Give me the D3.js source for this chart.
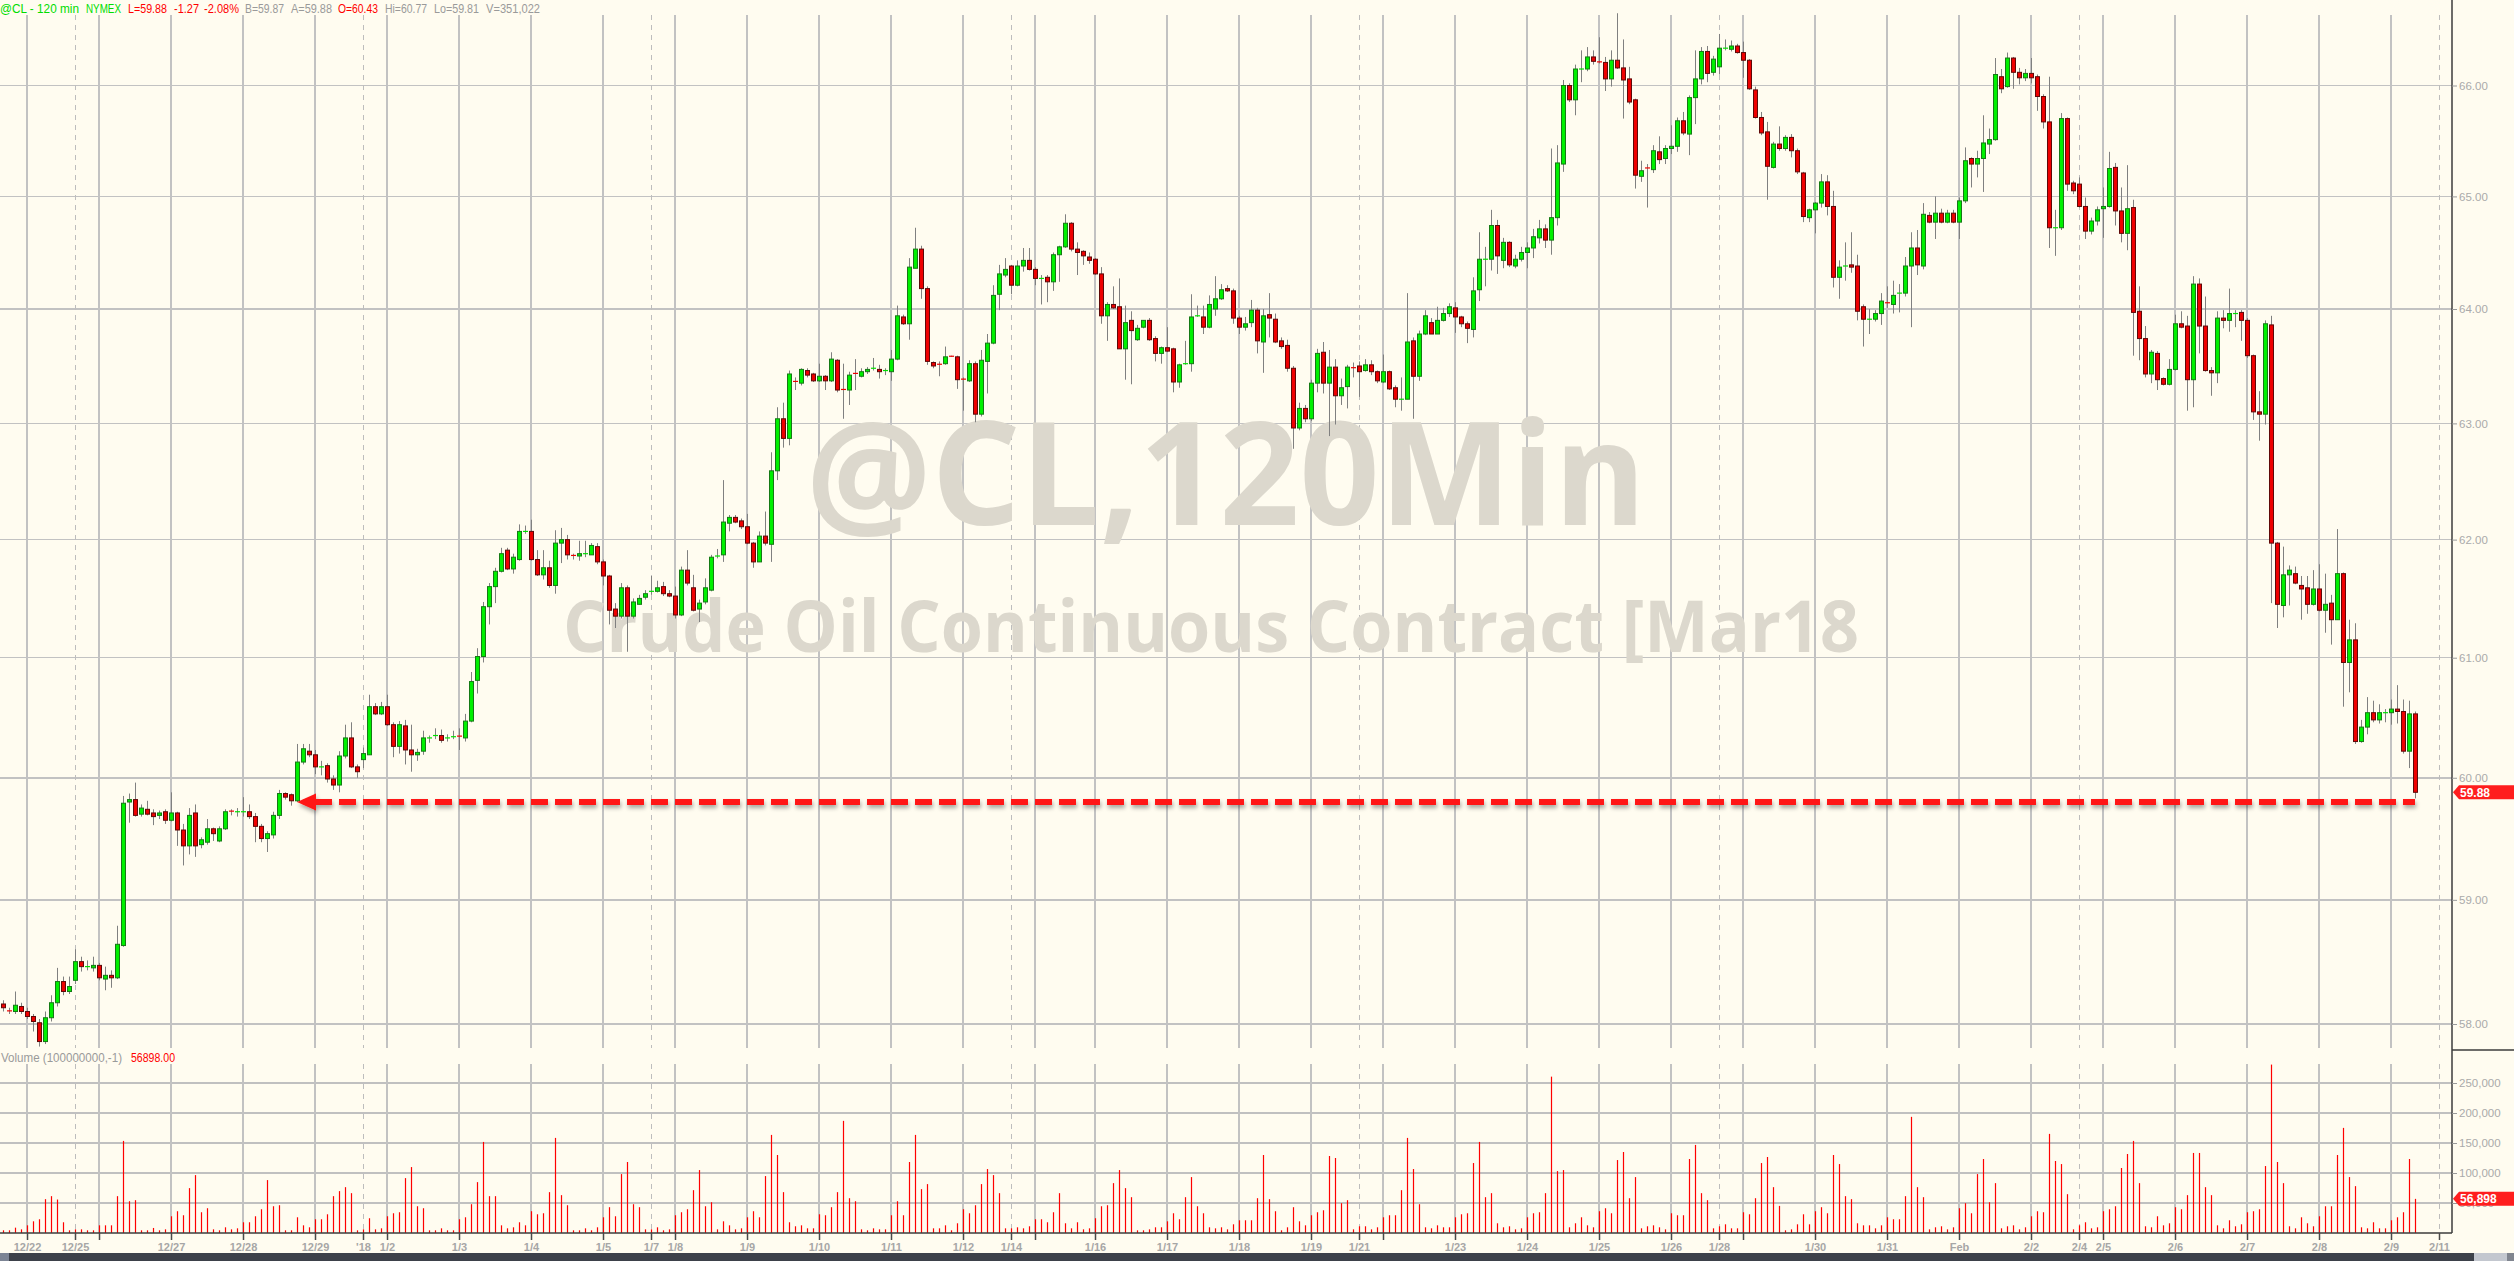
<!DOCTYPE html>
<html>
<head>
<meta charset="utf-8">
<script src="https://cdn.jsdelivr.net/npm/d3@7"></script>
<style>
body { margin: 0; background: #fffcf0; overflow: hidden; }
svg { display: block; }
</style>
</head>
<body>
<div class="container"></div>
<script>
const wd = 2514
const ht = 1261

// 120 min bars, 12/21 evening to 2/9 morning
const opens = [
58.16,58.11,58.10,58.14,58.10,58.06,58.01,57.86,58.05,58.17,
58.34,58.26,58.35,58.50,58.46,58.45,58.47,58.36,58.39,58.37,
58.63,59.80,59.82,59.70,59.74,59.71,59.69,59.72,59.65,59.71,
59.57,59.44,59.71,59.45,59.47,59.58,59.48,59.58,59.73,59.72,
59.72,59.72,59.68,59.60,59.50,59.53,59.69,59.87,59.86,59.81,
60.13,60.22,60.19,60.09,60.10,59.99,59.94,60.18,60.33,60.09,
60.15,60.19,60.59,60.53,60.59,60.44,60.26,60.43,60.23,60.19,
60.22,60.33,60.35,60.35,60.33,60.34,60.35,60.33,60.47,60.81,
61.01,61.43,61.60,61.73,61.91,61.75,61.83,62.07,62.07,61.83,
61.70,61.76,61.61,61.97,62.00,61.87,61.86,61.88,61.87,61.94,
61.81,61.69,61.41,61.35,61.59,61.35,61.45,61.51,61.56,61.56,
61.60,61.54,61.52,61.36,61.74,61.59,61.41,61.47,61.57,61.86,
61.87,62.14,62.19,62.16,62.11,61.97,61.81,62.03,61.96,62.59,
63.04,62.87,63.37,63.35,63.46,63.43,63.37,63.41,63.37,63.55,
63.30,63.29,63.44,63.41,63.45,63.48,63.47,63.46,63.45,63.56,
63.93,63.87,64.36,64.53,64.18,63.53,63.52,63.52,63.59,63.58,
63.39,63.37,63.52,63.08,63.54,63.70,64.13,64.30,64.38,64.21,
64.38,64.43,64.35,64.27,64.28,64.24,64.48,64.55,64.76,64.53,
64.51,64.46,64.44,64.31,63.94,64.04,64.02,63.65,63.90,63.73,
63.84,63.90,63.74,63.61,63.66,63.65,63.36,63.52,63.52,63.94,
63.93,63.84,64.00,64.09,64.18,64.16,63.92,63.84,63.88,63.99,
63.71,63.95,63.91,63.72,63.68,63.48,62.96,63.13,63.04,63.35,
63.62,63.35,63.49,63.24,63.32,63.49,63.50,63.46,63.51,63.45,
63.36,63.45,63.31,63.21,63.21,63.72,63.41,63.78,63.88,63.78,
63.90,63.96,64.01,63.93,63.87,63.82,64.17,64.44,64.44,64.74,
64.43,64.59,64.38,64.44,64.50,64.54,64.63,64.71,64.61,64.81,
65.29,66.00,65.87,66.15,66.15,66.26,66.22,66.21,66.06,66.23,
66.16,66.06,65.87,65.18,65.26,65.24,65.40,65.34,65.43,65.45,
65.68,65.56,65.89,66.06,66.31,66.12,66.17,66.34,66.33,66.36,
66.30,66.23,65.96,65.71,65.58,65.26,65.47,65.43,65.53,65.41,
65.21,64.81,64.88,64.94,65.13,64.91,64.28,64.38,64.39,64.38,
64.02,63.91,63.91,63.96,64.06,64.04,64.14,64.14,64.38,64.54,
64.38,64.83,64.77,64.85,64.77,64.85,64.77,64.96,65.34,65.29,
65.34,65.47,65.51,66.08,65.99,66.25,66.12,66.07,66.11,66.08,
65.90,65.67,64.72,64.72,65.70,65.12,65.11,64.91,64.69,64.78,
64.89,64.91,65.26,64.87,64.67,64.90,63.98,63.74,63.43,63.61,
63.39,63.34,63.47,63.87,63.85,63.38,64.22,63.85,63.46,63.44,
63.92,63.90,63.96,63.97,63.90,63.59,63.10,63.08,63.86,61.97,
61.44,61.70,61.71,61.61,61.59,61.45,61.58,61.40,61.46,61.32,
61.71,60.96,61.15,60.30,60.42,60.54,60.48,60.54,60.54,60.57,
60.55,60.22,60.53]

const highs = [
58.19,58.13,58.26,58.17,58.13,58.08,58.04,58.10,58.23,58.45,
58.38,58.38,58.60,58.54,58.51,58.54,58.49,58.46,58.43,58.79,
59.85,59.87,59.96,59.78,59.81,59.74,59.73,59.74,59.88,59.72,
59.62,59.75,59.78,59.51,59.66,59.59,59.60,59.74,59.74,59.75,
59.84,59.78,59.71,59.62,59.56,59.72,59.90,59.88,59.87,60.28,
60.28,60.28,60.23,60.14,60.12,60.02,60.22,60.44,60.46,60.11,
60.25,60.69,60.62,60.63,60.69,60.46,60.47,60.48,60.44,60.24,
60.39,60.35,60.41,60.40,60.36,60.39,60.41,60.53,60.88,61.08,
61.47,61.63,61.76,61.93,61.93,61.88,62.13,62.12,62.17,61.91,
61.91,61.82,62.08,62.10,62.04,61.88,61.99,61.99,61.97,61.97,
61.83,61.70,61.46,61.63,61.61,61.50,61.53,61.57,61.69,61.65,
61.64,61.57,61.60,61.77,61.91,61.70,61.49,61.67,61.87,61.92,
62.51,62.21,62.21,62.18,62.22,61.98,62.07,62.24,62.75,63.14,
63.18,63.46,63.40,63.48,63.48,63.44,63.52,63.42,63.62,63.56,
63.52,63.45,63.56,63.48,63.49,63.57,63.51,63.48,63.64,64.03,
63.95,64.45,64.72,64.56,64.20,63.54,63.54,63.67,63.59,63.59,
63.40,63.55,63.54,63.64,63.78,64.21,64.39,64.45,64.39,64.43,
64.54,64.54,64.37,64.30,64.30,64.50,64.56,64.84,64.77,64.59,
64.52,64.50,64.45,64.37,64.06,64.20,64.27,64.03,63.98,63.86,
63.90,63.92,63.76,63.67,63.84,63.66,63.52,63.72,64.13,64.03,
64.03,64.12,64.29,64.22,64.21,64.18,63.94,63.93,64.08,64.01,
64.00,64.14,63.96,63.75,63.73,63.50,63.18,63.16,63.38,63.65,
63.71,63.64,63.56,63.39,63.51,63.53,63.54,63.56,63.55,63.46,
63.60,63.46,63.33,63.40,64.14,63.75,63.81,63.99,63.92,64.02,
64.01,64.05,64.06,63.94,63.89,64.28,64.68,64.55,64.88,64.79,
64.63,64.60,64.48,64.55,64.59,64.71,64.79,64.75,65.43,65.46,
66.05,66.02,66.19,66.32,66.35,66.32,66.44,66.26,66.32,66.66,
66.42,66.17,65.88,65.32,65.29,65.46,65.54,65.46,65.64,65.71,
65.76,65.91,66.32,66.35,66.36,66.27,66.47,66.42,66.41,66.38,
66.40,66.24,65.99,65.76,65.67,65.49,65.63,65.55,65.56,65.43,
65.22,64.89,64.95,65.20,65.19,65.05,64.43,64.59,64.68,64.48,
64.04,64.00,63.99,64.14,64.20,64.25,64.22,64.46,64.68,64.70,
64.94,64.86,65.00,64.89,64.88,64.88,64.99,65.44,65.35,65.41,
65.73,65.61,66.25,66.15,66.30,66.26,66.16,66.15,66.25,66.10,
65.92,66.08,64.88,65.75,65.71,65.14,65.17,64.99,64.81,64.91,
65.08,65.40,65.30,65.08,65.28,64.97,64.20,63.85,63.64,63.63,
63.40,63.56,63.95,63.98,63.94,64.29,64.27,64.11,63.49,63.98,
63.99,64.18,63.99,63.99,63.92,63.60,63.28,63.90,63.94,61.98,
61.94,61.78,61.77,61.69,61.69,61.74,61.79,61.71,61.53,62.09,
61.72,61.32,61.29,60.48,60.67,60.64,60.61,60.57,60.65,60.77,
60.65,60.64,60.55]

const lows = [
58.10,58.08,58.08,58.08,58.04,57.94,57.82,57.84,58.02,58.14,
58.23,58.24,58.32,58.42,58.43,58.42,58.35,58.27,58.29,58.36,
58.62,59.63,59.68,59.68,59.69,59.61,59.66,59.62,59.64,59.44,
59.28,59.37,59.35,59.42,59.45,59.48,59.47,59.57,59.69,59.68,
59.68,59.66,59.47,59.47,59.39,59.50,59.66,59.82,59.77,59.80,
60.11,60.17,60.03,60.02,59.96,59.90,59.88,60.16,60.08,60.00,
60.08,60.19,60.52,60.52,60.43,60.17,60.20,60.11,60.05,60.14,
60.19,60.29,60.32,60.29,60.30,60.32,60.23,60.30,60.46,60.70,
60.96,61.28,61.46,61.72,61.74,61.71,61.82,62.05,61.82,61.69,
61.66,61.59,61.54,61.80,61.83,61.83,61.82,61.85,61.87,61.79,
61.61,61.28,61.25,61.33,61.05,61.33,61.45,61.49,61.53,61.55,
61.52,61.51,61.33,61.35,61.61,61.39,61.30,61.45,61.56,61.84,
61.81,62.07,62.14,62.09,61.96,61.76,61.81,61.95,61.81,62.51,
62.79,62.81,63.29,63.33,63.40,63.36,63.36,63.29,63.36,63.27,
63.04,63.16,63.29,63.40,63.43,63.46,63.39,63.42,63.37,63.55,
63.86,63.73,64.36,64.09,63.51,63.48,63.41,63.51,63.58,63.30,
63.11,63.36,63.01,63.06,63.26,63.69,63.99,64.28,64.13,64.20,
64.33,64.34,64.21,64.04,64.06,64.16,64.24,64.54,64.51,64.30,
64.39,64.40,64.30,63.87,63.72,64.00,63.65,63.38,63.34,63.72,
63.83,63.72,63.54,63.52,63.62,63.27,63.31,63.51,63.45,63.93,
63.78,63.83,63.94,64.08,64.15,63.87,63.78,63.81,63.84,63.61,
63.44,63.75,63.70,63.65,63.45,62.78,62.94,63.01,63.02,63.27,
63.26,62.89,62.99,63.16,63.13,63.40,63.23,63.45,63.42,63.35,
63.35,63.29,63.14,63.11,63.21,63.04,63.37,63.77,63.78,63.78,
63.89,63.93,63.79,63.84,63.70,63.75,64.07,64.20,64.34,64.31,
64.36,64.37,64.36,64.42,64.36,64.45,64.58,64.54,64.48,64.74,
65.22,65.85,65.73,66.03,66.13,66.19,66.20,65.95,65.99,66.15,
65.70,65.83,65.07,65.13,64.90,65.21,65.29,65.29,65.38,65.40,
65.55,65.37,65.65,66.01,66.03,66.09,66.10,66.32,66.31,66.29,
66.07,65.96,65.70,65.55,64.97,65.25,65.41,65.41,65.35,65.20,
64.77,64.77,64.67,64.90,64.83,64.19,64.09,64.25,64.32,63.90,
63.67,63.78,63.89,63.86,64.01,63.96,63.97,64.11,63.84,64.30,
64.35,64.76,64.62,64.76,64.76,64.76,64.62,64.94,65.08,65.17,
65.04,65.38,65.50,65.93,65.98,65.97,66.01,66.04,66.02,65.77,
65.61,64.54,64.47,64.70,65.05,65.02,64.90,64.62,64.66,64.74,
64.63,64.90,64.74,64.59,64.52,63.59,63.55,63.40,63.35,63.29,
63.33,63.33,63.46,63.83,63.11,63.14,63.61,63.45,63.24,63.35,
63.83,63.80,63.84,63.72,63.57,63.03,62.85,62.99,61.46,61.25,
61.34,61.44,61.62,61.32,61.37,61.44,61.39,61.21,61.11,61.32,
60.59,60.71,60.28,60.29,60.36,60.46,60.45,60.46,60.44,60.45,
60.20,60.08,59.83]

const closes = [
58.13,58.10,58.15,58.10,58.06,58.02,57.86,58.05,58.17,58.34,
58.26,58.30,58.50,58.46,58.46,58.47,58.37,58.39,58.37,58.64,
59.79,59.82,59.69,59.75,59.70,59.68,59.71,59.65,59.71,59.57,
59.44,59.69,59.44,59.49,59.58,59.54,59.58,59.72,59.72,59.72,
59.72,59.68,59.60,59.50,59.54,59.69,59.87,59.84,59.81,60.13,
60.24,60.19,60.09,60.09,59.99,59.94,60.18,60.33,60.09,60.05,
60.20,60.59,60.53,60.59,60.44,60.26,60.44,60.23,60.19,60.21,
60.33,60.33,60.35,60.31,60.33,60.34,60.34,60.47,60.80,61.01,
61.43,61.60,61.73,61.88,61.75,61.85,62.07,62.07,61.83,61.70,
61.76,61.61,61.97,62.00,61.87,61.86,61.88,61.88,61.95,61.81,
61.69,61.40,61.35,61.59,61.35,61.47,61.50,61.54,61.56,61.59,
61.54,61.52,61.36,61.74,61.63,61.40,61.46,61.59,61.85,61.86,
62.15,62.19,62.15,62.11,61.97,61.81,62.03,61.97,62.59,63.04,
62.87,63.43,63.36,63.47,63.42,63.37,63.41,63.37,63.56,63.29,
63.29,63.42,63.43,63.45,63.47,63.48,63.45,63.46,63.56,63.94,
63.87,64.37,64.53,64.18,63.54,63.50,63.51,63.58,63.58,63.38,
63.38,63.52,63.08,63.55,63.70,64.12,64.31,64.35,64.21,64.38,
64.43,64.35,64.27,64.27,64.24,64.48,64.55,64.76,64.53,64.50,
64.47,64.43,64.31,63.94,64.04,64.01,63.65,63.88,63.81,63.83,
63.90,63.73,63.61,63.66,63.63,63.36,63.51,63.52,63.93,63.94,
63.84,64.04,64.09,64.17,64.16,63.92,63.84,63.87,63.99,63.72,
63.94,63.92,63.71,63.67,63.48,62.96,63.13,63.04,63.35,63.61,
63.35,63.49,63.24,63.31,63.49,63.48,63.45,63.51,63.45,63.37,
63.45,63.30,63.21,63.21,63.71,63.41,63.78,63.94,63.78,63.90,
63.96,64.02,63.93,63.87,63.83,64.16,64.44,64.44,64.74,64.47,
64.59,64.39,64.44,64.50,64.54,64.64,64.71,64.61,64.81,65.30,
66.00,65.87,66.15,66.15,66.26,66.22,66.21,66.06,66.23,66.16,
66.05,65.85,65.19,65.23,65.25,65.41,65.33,65.43,65.45,65.68,
65.57,65.89,66.06,66.31,66.11,66.24,66.34,66.34,66.36,66.30,
66.23,65.97,65.71,65.57,65.27,65.47,65.43,65.53,65.41,65.22,
64.82,64.88,64.94,65.13,64.91,64.28,64.37,64.38,64.37,63.98,
63.91,63.91,63.96,64.07,64.05,64.12,64.14,64.38,64.54,64.39,
64.84,64.77,64.85,64.77,64.85,64.77,64.96,65.32,65.29,65.34,
65.48,65.51,66.10,65.97,66.25,66.12,66.07,66.11,66.07,65.90,
65.67,64.72,64.72,65.70,65.11,65.05,64.91,64.69,64.78,64.88,
64.91,65.25,64.87,64.67,64.89,63.97,63.74,63.43,63.62,63.38,
63.34,63.47,63.87,63.84,63.38,64.22,63.85,63.46,63.44,63.92,
63.90,63.96,63.96,63.90,63.59,63.10,63.08,63.87,61.97,61.45,
61.70,61.74,61.63,61.58,61.45,61.58,61.40,61.45,61.32,61.71,
60.96,61.15,60.30,60.42,60.54,60.48,60.54,60.54,60.57,60.55,
60.22,60.53,59.88]

const volumes = [
4500,4500,8900,6100,12800,19500,22900,56400,61400,55800,
17900,4500,6100,6100,4500,4500,12800,12800,12800,61400,
153500,53000,54700,4500,4500,8400,4500,6100,27900,36300,
29600,74800,96500,34600,41300,6100,4500,9500,6100,7800,
17900,17900,27900,39600,88200,44600,46300,4500,4500,26200,
12800,9500,22900,22900,31200,61400,69800,76400,66400,4500,
6100,24600,6100,7800,27900,32900,34600,91500,109900,44600,
41300,4500,4500,7800,4500,4500,22900,26200,48000,84800,
151800,61400,61400,12800,7800,9500,17900,12800,36300,31200,
32900,68100,158500,63100,46300,4500,4500,7800,4500,9500,
26200,43000,27900,98200,118300,48000,43000,6100,6100,9500,
4500,6100,29600,34600,39600,71400,104900,44600,51300,6100,
19500,12800,6100,7800,26200,36300,26200,94900,163500,130000,
68100,17900,11200,12800,7800,7800,31200,29600,43000,68100,
186900,58000,53000,6100,4500,7800,6100,6100,29600,53000,
29600,118300,163500,73100,81500,7800,7800,12800,4500,16200,
39600,32900,46300,81500,106600,96500,66400,7800,7800,9500,
7800,11200,22900,22900,17900,34600,66400,16200,7800,17900,
6100,7800,24600,44600,46300,83100,104900,74800,59700,4500,
4500,6100,9500,9500,19500,32900,22900,59700,93200,44600,
32900,9500,7800,9500,6100,14500,21200,21200,21200,58000,
130000,56400,36300,4500,9500,43000,19500,12800,29600,34600,
37900,128300,125000,49700,54700,6100,11200,11200,6100,9500,
26200,29600,29600,71400,158500,106600,48000,9500,7800,12800,
9500,9500,26200,31200,32900,116600,151800,59700,66400,16200,
9500,11200,6100,7800,26200,32900,34600,66400,260600,103200,
104900,9500,16200,26200,12800,9500,36300,41300,32900,121600,
135000,58000,93200,7800,11200,12800,9500,6100,32900,29600,
29600,123300,146800,66400,54700,7800,11200,14500,7800,7800,
34600,31200,58000,116600,126700,76400,45200,4500,6100,14500,
31200,14500,36300,43000,32900,130000,114900,61400,56400,16200,
12800,12800,7800,12800,26200,22900,22900,61400,193600,76400,
59700,6100,9500,11200,6100,9500,41300,49700,32900,98200,
123300,51300,83100,7800,11200,12800,6100,9500,27900,36300,
34600,165200,120000,114900,64700,6100,12800,17900,7800,9500,
36300,39600,44600,108300,131700,153500,83100,11200,9500,27900,
12800,16200,43000,39600,63100,133400,133400,76400,63100,12800,
7800,21200,11200,14500,34600,36300,39600,111600,280700,118300,
83100,11200,7800,26200,16200,11200,27900,44600,44600,130000,
175200,93200,78100,9500,7800,17900,7800,7800,21200,26200,
34600,123300,56898]

// date axis: bar index of each session start, and its label
const tickBars = [4,12,16,28,40,52,60,64,76,88,100,108,112,124,136,148,160,168,172,182,194,206,218,226,230,242,254,266,278,286,290,302,314,326,338,346,350,362,374,386,398,406]
const tickLabels = ["12/22","12/25","","12/27","12/28","12/29","'18","1/2","1/3","1/4","1/5","1/7","1/8","1/9","1/10","1/11","1/12","1/14","","1/16","1/17","1/18","1/19","1/21","","1/23","1/24","1/25","1/26","1/28","","1/30","1/31","Feb","2/2","2/4","2/5","2/6","2/7","2/8","2/9","2/11"]
const weekStarts = [12,60,108,168,226,286,346,406]

const priceTicks = [58,59,60,61,62,63,64,65,66]
const volTicks = [50000,100000,150000,200000,250000]

// red arrow line drawn on the chart
const markLevel = 59.80
const markFrom = 49
const markTo = 402

const header = [
  {t:"@CL - 120 min", x:0, w:79, c:"#00dd00"},
  {t:"NYMEX", x:86, w:35, c:"#00dd00"},
  {t:"L=59.88", x:128, w:39, c:"#ff0000"},
  {t:"-1.27", x:174, w:25, c:"#ff0000"},
  {t:"-2.08%", x:204, w:35, c:"#ff0000"},
  {t:"B=59.87", x:245, w:39, c:"#9a9a9a"},
  {t:"A=59.88", x:291, w:41, c:"#9a9a9a"},
  {t:"O=60.43", x:338, w:40, c:"#ff0000"},
  {t:"Hi=60.77", x:385, w:42, c:"#9a9a9a"},
  {t:"Lo=59.81", x:434, w:45, c:"#9a9a9a"},
  {t:"V=351,022", x:486, w:54, c:"#9a9a9a"}
]

const font = "'Liberation Sans', Arial, sans-serif"
const axisX = 2452
const mainTop = 15, mainBot = 1048
const volTop = 1064, volBase = 1233

const svgC = d3.select(".container")
.append("svg")
.attr("width", wd)
.attr("height", ht)
.style("background", "#fffcf0")

const x = d3.scaleLinear().domain([0, 402]).range([3, 2415])
const y = d3.scaleLog().domain([58, 66]).range([1024, 85.5])
const yv = d3.scaleLinear().domain([0, 250000]).range([volBase, 1083])

const defs = svgC.append("defs")
const shadow = defs.append("filter").attr("id", "shd")
.attr("x", "-5%").attr("y", "-200%").attr("width", "110%").attr("height", "500%")
shadow.append("feDropShadow")
.attr("dx", 1).attr("dy", 3).attr("stdDeviation", 2)
.attr("flood-color", "#000").attr("flood-opacity", 0.35)

// grid
const grid = svgC.append("g").attr("shape-rendering", "crispEdges")

grid.selectAll(".hline")
.data(priceTicks)
.enter()
.append("line")
.attr("x1", 0).attr("x2", axisX)
.attr("y1", d => y(d)).attr("y2", d => y(d))
.style("stroke", "#c2c2c2")
.style("stroke-width", "1.5px")

grid.selectAll(".vline")
.data(volTicks)
.enter()
.append("line")
.attr("x1", 0).attr("x2", axisX)
.attr("y1", d => yv(d)).attr("y2", d => yv(d))
.style("stroke", "#c0c0c0")
.style("stroke-width", "2px")

const dayLines = grid.selectAll(".day")
.data(tickBars)
.enter()

for (const [top, bot] of [[mainTop, mainBot], [volTop, volBase]]) {
  dayLines.append("line")
  .attr("x1", d => Math.round(x(d))).attr("x2", d => Math.round(x(d)))
  .attr("y1", top).attr("y2", bot)
  .style("stroke", d => weekStarts.includes(d) ? "#bdbdbd" : "#c2c2c2")
  .style("stroke-width", d => weekStarts.includes(d) ? "1px" : "1.6px")
  .style("stroke-dasharray", d => weekStarts.includes(d) ? "5,5" : null)
}

// watermark
svgC.append("text")
.attr("x", 806).attr("y", 525)
.attr("textLength", 840).attr("lengthAdjust", "spacingAndGlyphs")
.style("font-family", "'Open Sans', 'DejaVu Sans', sans-serif")
.style("font-weight", "bold")
.style("font-size", "143px")
.style("fill", "#dcd8cd")
.text("@CL,120Min")

svgC.append("text")
.attr("x", 563).attr("y", 652)
.attr("textLength", 1296).attr("lengthAdjust", "spacingAndGlyphs")
.style("font-family", "'Open Sans', 'DejaVu Sans', sans-serif")
.style("font-weight", "bold")
.style("font-size", "71px")
.style("fill", "#dcd8cd")
.text("Crude Oil Continuous Contract [Mar18")

// candles
const bars = d3.range(opens.length).map(i => ({
  i: i, o: opens[i], h: highs[i], l: lows[i], c: closes[i]
}))

const cg = svgC.append("g")

cg.selectAll(".wick")
.data(bars)
.enter()
.append("line")
.attr("x1", d => Math.round(x(d.i)) + 0.5).attr("x2", d => Math.round(x(d.i)) + 0.5)
.attr("y1", d => y(d.h)).attr("y2", d => y(d.l))
.style("stroke", "#808080")
.style("stroke-width", "1px")

const flat = d => Math.abs(d.c - d.o) <= 0.011
const up = d => d.c >= d.o

cg.selectAll(".body")
.data(bars.filter(d => !flat(d)))
.enter()
.append("rect")
.attr("x", d => Math.round(x(d.i)) - 1.5)
.attr("width", 4)
.attr("y", d => y(Math.max(d.o, d.c)))
.attr("height", d => Math.max(1, y(Math.min(d.o, d.c)) - y(Math.max(d.o, d.c))))
.style("fill", d => up(d) ? "#00f000" : "#ee0000")
.style("stroke", d => up(d) ? "#157a15" : "#5e0808")
.style("stroke-width", "1px")

cg.selectAll(".dash")
.data(bars.filter(d => flat(d)))
.enter()
.append("line")
.attr("x1", d => Math.round(x(d.i)) - 2).attr("x2", d => Math.round(x(d.i)) + 3)
.attr("y1", d => y((d.o + d.c) / 2)).attr("y2", d => y((d.o + d.c) / 2))
.style("stroke", d => up(d) ? "#00e000" : "#ee0000")
.style("stroke-width", "1.2px")

// volume
svgC.append("g").selectAll("line")
.data(volumes)
.enter()
.append("line")
.attr("x1", (d, i) => Math.round(x(i)) + 0.5).attr("x2", (d, i) => Math.round(x(i)) + 0.5)
.attr("y1", volBase).attr("y2", d => yv(d))
.style("stroke", "#ff0000")
.style("stroke-width", "1.2px")

// arrow annotation
const my = y(markLevel)
const ax = x(markFrom)
const ann = svgC.append("g").attr("filter", "url(#shd)")
ann.append("line")
.attr("x1", ax + 18).attr("x2", x(markTo))
.attr("y1", my).attr("y2", my)
.style("stroke", "#ff1414")
.style("stroke-width", "6px")
.style("stroke-dasharray", "17,7")
ann.append("path")
.attr("d", d3.line()([[ax, my], [ax + 19, my - 8.5], [ax + 19, my + 8.5]]) + "Z")
.attr("fill", "#ff1414")

// axes frame
svgC.append("line")
.attr("x1", axisX).attr("x2", axisX).attr("y1", 0).attr("y2", volBase)
.style("stroke", "#3c3c3c").style("stroke-width", "1.5px")
svgC.append("line")
.attr("x1", 0).attr("x2", axisX).attr("y1", volBase).attr("y2", volBase)
.style("stroke", "#3c3c3c").style("stroke-width", "1.5px")
svgC.append("line")
.attr("x1", axisX).attr("x2", wd).attr("y1", 1050).attr("y2", 1050)
.style("stroke", "#3c3c3c").style("stroke-width", "1.5px")

// price axis
const pAxis = svgC.append("g").attr("transform", `translate(${axisX},0)`)
.call(d3.axisRight(y).tickValues(priceTicks).tickFormat(d3.format(".2f")).tickSize(5).tickPadding(2))
pAxis.select(".domain").remove()
pAxis.selectAll("line").style("stroke", "#999")
pAxis.selectAll("text")
.style("font-family", font).style("font-size", "11.5px").style("fill", "#aaaaaa")

const vAxis = svgC.append("g").attr("transform", `translate(${axisX},0)`)
.call(d3.axisRight(yv).tickValues(volTicks).tickFormat(d3.format(",")).tickSize(5).tickPadding(2))
vAxis.select(".domain").remove()
vAxis.selectAll("line").style("stroke", "#999")
vAxis.selectAll("text")
.style("font-family", font).style("font-size", "11.5px").style("fill", "#aaaaaa")

// date axis
const dAxis = svgC.append("g").attr("transform", `translate(0,${volBase})`)
.call(d3.axisBottom(x).tickValues(tickBars).tickFormat((d, i) => tickLabels[i]).tickSize(7).tickPadding(3))
dAxis.select(".domain").remove()
dAxis.selectAll("line").style("stroke", "#4a4a4a").style("stroke-width", "1.5px")
dAxis.selectAll("text")
.style("font-family", font).style("font-size", "11px").style("font-weight", "bold").style("fill", "#a6a6a6")

// last value tags
function tag(yy, label) {
  svgC.append("path")
  .attr("d", `M${axisX + 1},${yy} L${axisX + 7},${yy - 7} L${wd},${yy - 7} L${wd},${yy + 7} L${axisX + 7},${yy + 7} Z`)
  .attr("fill", "#ff1e1e")
  svgC.append("text")
  .attr("x", axisX + 8).attr("y", yy + 4.5)
  .style("font-family", font).style("font-size", "12px").style("font-weight", "bold")
  .style("fill", "#fff")
  .text(label)
}
tag(y(closes[closes.length - 1]), d3.format(".2f")(closes[closes.length - 1]))
tag(yv(volumes[volumes.length - 1]), d3.format(",")(volumes[volumes.length - 1]))

// header line
svgC.selectAll(".hdr")
.data(header)
.enter()
.append("text")
.attr("x", d => d.x).attr("y", 13)
.attr("textLength", d => d.w).attr("lengthAdjust", "spacingAndGlyphs")
.style("font-family", font).style("font-size", "13px")
.style("fill", d => d.c)
.text(d => d.t)

svgC.append("text")
.attr("x", 1).attr("y", 1062)
.attr("textLength", 121).attr("lengthAdjust", "spacingAndGlyphs")
.style("font-family", font).style("font-size", "12.5px").style("fill", "#9a9a9a")
.text("Volume (100000000,-1)")
svgC.append("text")
.attr("x", 131).attr("y", 1062)
.attr("textLength", 44).attr("lengthAdjust", "spacingAndGlyphs")
.style("font-family", font).style("font-size", "12.5px").style("fill", "#ff0000")
.text(d3.format(".2f")(volumes[volumes.length - 1]))

// scroll bar
svgC.append("rect").attr("x", 0).attr("y", 1253).attr("width", wd).attr("height", 8).attr("fill", "#3d414a")
svgC.append("rect").attr("x", 0).attr("y", 1253).attr("width", 9).attr("height", 8).attr("fill", "#7c8494")
svgC.append("rect").attr("x", 2474).attr("y", 1253).attr("width", 33).attr("height", 8).attr("fill", "#c3c7cf")
svgC.append("rect").attr("x", 2507).attr("y", 1253).attr("width", 7).attr("height", 8).attr("fill", "#80858f")
</script>
</body>
</html>
